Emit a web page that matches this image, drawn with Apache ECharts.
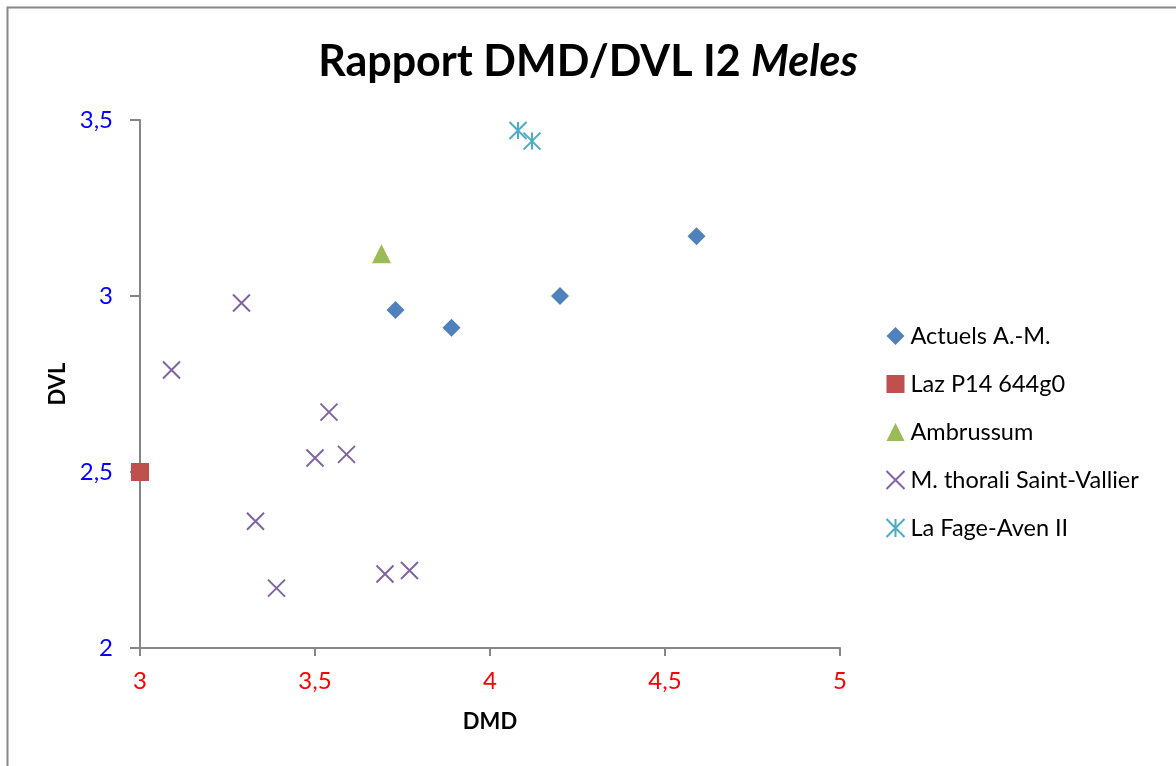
<!DOCTYPE html>
<html><head><meta charset="utf-8">
<script src="https://cdn.jsdelivr.net/npm/echarts@6/dist/echarts.min.js"></script>
<style>html,body{margin:0;padding:0;background:#fff}#c{width:1176px;height:766px}</style>
</head><body><div id="c"></div>
<script>
const seriesNames = ['Actuels A.-M.', 'Laz P14 644g0', 'Ambrussum', 'M. thorali Saint-Vallier', 'La Fage-Aven II'];
const actuels = [[3.73, 2.96], [3.89, 2.91], [4.20, 3.00], [4.59, 3.17]];
const laz = [[3.00, 2.50]];
const ambrussum = [[3.69, 3.12]];
const thorali = [[3.29, 2.98], [3.09, 2.79], [3.54, 2.67], [3.50, 2.54], [3.59, 2.55], [3.33, 2.36], [3.39, 2.17], [3.70, 2.21], [3.77, 2.22]];
const laFage = [[4.08, 3.47], [4.12, 3.44]];
const xTicks = [3, 3.5, 4, 4.5, 5];
const yTicks = [2, 2.5, 3, 3.5];

const FONT = 'Lato';
const fmt = v => String(v).replace('.', ',');
const chart = echarts.init(document.getElementById('c'));
chart.setOption({
  animation: false,
  textStyle: { fontFamily: FONT },
  graphic: [{ type: 'rect', shape: { x: 7.5, y: 7.5, width: 1200, height: 800 }, style: { fill: 'none', stroke: '#888', lineWidth: 2 } }],
  title: {
    text: '{b|Rapport DMD/DVL I2 }{i|Meles}',
    left: 'center', top: 36,
    textStyle: { rich: {
      b: { fontFamily: FONT, fontWeight: 'bold', fontSize: 43, color: '#000' },
      i: { fontFamily: FONT, fontWeight: 'bold', fontStyle: 'italic', fontSize: 43, color: '#000' }
    } }
  },
  grid: { left: 140, right: 336, top: 120, bottom: 118 },
  xAxis: {
    type: 'value', min: xTicks[0], max: xTicks[xTicks.length - 1], interval: 0.5,
    name: 'DMD', nameLocation: 'middle', nameGap: 63,
    nameTextStyle: { fontFamily: FONT, fontWeight: 'bold', fontSize: 22, color: '#000' },
    axisLine: { lineStyle: { color: '#868686', width: 2 } },
    axisTick: { show: true, length: 8, lineStyle: { color: '#868686', width: 2 } },
    axisLabel: { color: '#FF0000', fontSize: 24, margin: 21, formatter: fmt },
    splitLine: { show: false }
  },
  yAxis: {
    type: 'value', min: yTicks[0], max: yTicks[yTicks.length - 1], interval: 0.5,
    name: 'DVL', nameLocation: 'middle', nameGap: 69, nameRotate: 90,
    nameTextStyle: { fontFamily: FONT, fontWeight: 'bold', fontSize: 22, color: '#000' },
    axisLine: { show: true, lineStyle: { color: '#868686', width: 2 } },
    axisTick: { show: true, length: 10, lineStyle: { color: '#868686', width: 2 } },
    axisLabel: { color: '#0000FF', fontSize: 24, margin: 27, formatter: fmt },
    splitLine: { show: false }
  },
  legend: {
    orient: 'vertical', left: 879, top: 319, itemGap: 24, itemWidth: 18, itemHeight: 18,
    textStyle: { fontFamily: FONT, fontSize: 23.5, color: '#000', padding: [0, 0, 0, 1] },
    data: seriesNames
  },
  series: [
    { name: seriesNames[0], type: 'scatter', data: actuels, symbol: 'diamond', symbolSize: 18, itemStyle: { color: '#4F81BD', opacity: 1 } },
    { name: seriesNames[1], type: 'scatter', data: laz, symbol: 'rect', symbolSize: 18, itemStyle: { color: '#C0504D', opacity: 1 } },
    { name: seriesNames[2], type: 'scatter', data: ambrussum, symbol: 'triangle', symbolSize: 19, itemStyle: { color: '#9BBB59', opacity: 1 } },
    { name: seriesNames[3], type: 'scatter', data: thorali, symbol: 'path://M0,0L10,10M10,0L0,10', symbolSize: 17,
      itemStyle: { color: 'none', borderColor: '#8064A2', borderWidth: 2, opacity: 1 } },
    { name: seriesNames[4], type: 'scatter', data: laFage, symbol: 'path://M0,0L10,10M10,0L0,10M5,0L5,10', symbolSize: 17,
      itemStyle: { color: 'none', borderColor: '#4BACC6', borderWidth: 2, opacity: 1 } }
  ]
});
</script></body></html>
